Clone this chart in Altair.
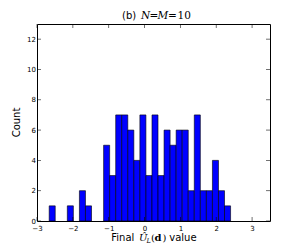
import altair as alt
import numpy as np
import pandas as pd

# histogram: 30 equal bins between the data min and max
bin_min = -2.66
bin_max = 2.40
counts = [1, 0, 0, 1, 0, 2, 1, 0, 0, 5,
          3, 7, 7, 6, 4, 7, 3, 7, 3, 6,
          5, 6, 6, 2, 7, 2, 2, 4, 2, 1]
x_ticks = [-3, -2, -1, 0, 1, 2, 3]
y_ticks = [0, 2, 4, 6, 8, 10, 12]

W, H = 233, 197

edges = np.linspace(bin_min, bin_max, len(counts) + 1)
df = pd.DataFrame({"x0": edges[:-1], "x1": edges[1:], "count": counts})
df = df[df["count"] > 0]

xscale = alt.Scale(domain=[-3, 3.5], nice=False, zero=False)
yscale = alt.Scale(domain=[0, 13], nice=False, zero=True)

xaxis = alt.Axis(values=x_ticks, format="d", labelFontSize=7, labelFont="DejaVu Sans",
                 labelColor="black", tickSize=0, domain=False, grid=False, labelPadding=3,
                 title=None, labelFlush=False, labelOverlap=False)
yaxis = alt.Axis(values=y_ticks, format="d", labelFontSize=7, labelFont="DejaVu Sans",
                 labelColor="black", tickSize=0, domain=False, grid=False, labelPadding=1.5,
                 title=None, labelOverlap=False, labelFlush=False)

bars = alt.Chart(df).mark_bar(color="#0000ff", stroke="black", strokeWidth=0.6).encode(
    x=alt.X("x0:Q", scale=xscale, axis=xaxis),
    x2="x1:Q",
    y=alt.Y("count:Q", scale=yscale, axis=yaxis),
    y2=alt.datum(0),
)

xt = pd.DataFrame({"v": x_ticks})
yt = pd.DataFrame({"v": y_ticks})
tk = dict(color="black", thickness=0.8, size=4)
xt_bot = alt.Chart(xt).mark_tick(**tk).encode(x=alt.X("v:Q", scale=xscale, axis=xaxis), y=alt.value(H - 2))
xt_top = alt.Chart(xt).mark_tick(**tk).encode(x=alt.X("v:Q", scale=xscale, axis=xaxis), y=alt.value(2))
yt_l = alt.Chart(yt).mark_tick(**tk).encode(y=alt.Y("v:Q", scale=yscale, axis=yaxis), x=alt.value(2))
yt_r = alt.Chart(yt).mark_tick(**tk).encode(y=alt.Y("v:Q", scale=yscale, axis=yaxis), x=alt.value(W - 2))


def txt(s, x, y, font="DejaVu Sans", size=10, style="normal", weight="normal", angle=0, align="left"):
    return alt.Chart(pd.DataFrame({"t": [s]})).mark_text(
        font=font, fontSize=size, fontStyle=style, fontWeight=weight, angle=angle,
        align=align, baseline="alphabetic", color="black"
    ).encode(text="t:N", x=alt.value(x), y=alt.value(y))


# title "(b) N=M=10"
ty = -5
title = [
    txt("(b)", 85, ty, size=10),
    txt("N", 104, ty, font="DejaVu Serif", size=10.5, style="italic"),
    txt("=", 112.5, ty, font="DejaVu Serif", size=10.5),
    txt("M", 120.5, ty, font="DejaVu Serif", size=10.5, style="italic"),
    txt("=", 131, ty, font="DejaVu Serif", size=10.5),
    txt("10", 140.5, ty, font="DejaVu Serif", size=10.5),
]

# x title "Final Û_L(d) value"
by = 217
xtitle = [
    txt("Final", 74.3, by, size=10),
    txt("Û", 102, by, font="DejaVu Serif", size=10, style="italic"),
    txt("L", 109.5, by + 2, font="DejaVu Serif", size=6.5, style="italic"),
    txt("(", 114, by, font="DejaVu Serif", size=10),
    txt("d", 117.5, by, font="DejaVu Serif", size=10, weight="bold"),
    txt(")", 125.5, by, font="DejaVu Serif", size=10),
    txt("value", 132.3, by, size=10),
]

ytitle = [txt("Count", -17, H / 2, size=10, angle=270, align="center")]

chart = alt.layer(bars, xt_bot, xt_top, yt_l, yt_r, *title, *xtitle, *ytitle).properties(
    width=W, height=H,
    autosize=alt.AutoSizeParams(type="none"),
    padding={"left": 29, "top": 16, "right": 22, "bottom": 26},
    background="white",
).configure_view(stroke="black", strokeWidth=1)

chart.save("out.html", embed_options={"renderer": "svg", "actions": False})
